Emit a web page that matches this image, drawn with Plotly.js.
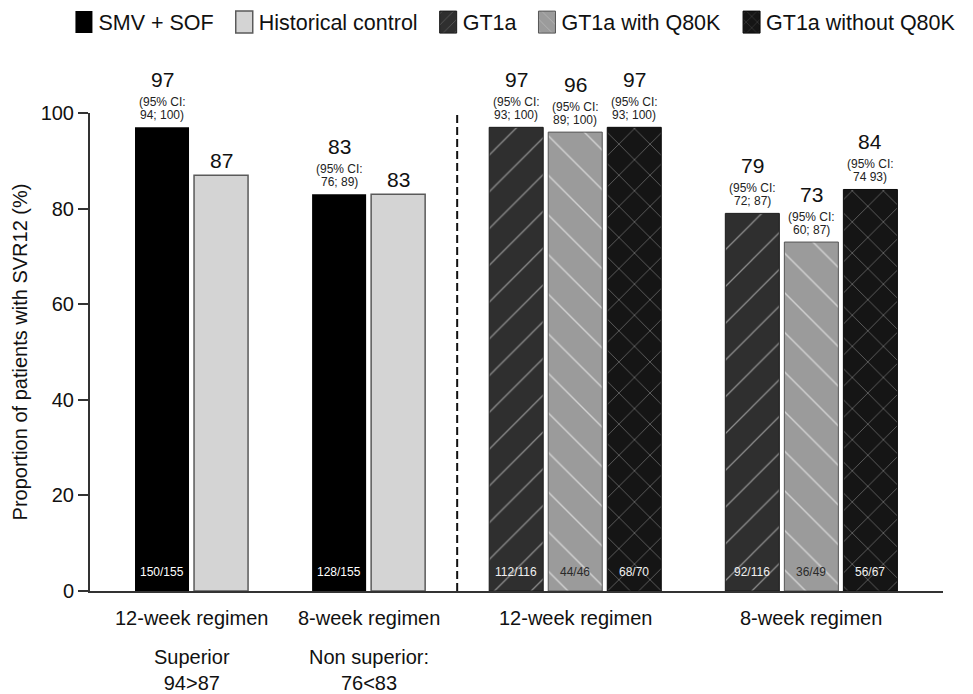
<!DOCTYPE html>
<html>
<head>
<meta charset="utf-8">
<script src="https://cdn.plot.ly/plotly-3.0.1.min.js"></script>
<style>
  html, body { margin: 0; padding: 0; background: #fff; }
  #chart { width: 973px; height: 694px; }
</style>
</head>
<body>
<div id="chart"></div>
<script>
// ---------------- data ----------------
const regimens = ['12-week regimen', '8-week regimen'];

const seriesNames = ['SMV + SOF', 'Historical control', 'GT1a', 'GT1a with Q80K', 'GT1a without Q80K'];

const smvSof      = [97, 83];
const histControl = [87, 83];
const gt1a        = [97, 79];
const gt1aQ80K    = [96, 73];
const gt1aNoQ80K  = [97, 84];

const smvSofCI      = ['94; 100', '76; 89'];
const histControlCI = [null, null];
const gt1aCI        = ['93; 100', '72; 87'];
const gt1aQ80KCI    = ['89; 100', '60; 87'];
const gt1aNoQ80KCI  = ['93; 100', '74 93'];

const smvSofN      = ['150/155', '128/155'];
const histControlN = [null, null];
const gt1aN        = ['112/116', '92/116'];
const gt1aQ80KN    = ['44/46', '36/49'];
const gt1aNoQ80KN  = ['68/70', '56/67'];

const comparisonNotes = ['Superior<br>94&gt;87', 'Non superior:<br>76&lt;83'];

const yTicks = [0, 20, 40, 60, 80, 100];
const yTitle = 'Proportion of patients with SVR12 (%)';

// -------------- structure --------------
const panels = [
  { series: [0, 1], notes: comparisonNotes },
  { series: [2, 3, 4], notes: null }
];
const values = [smvSof, histControl, gt1a, gt1aQ80K, gt1aNoQ80K];
const cis    = [smvSofCI, histControlCI, gt1aCI, gt1aQ80KCI, gt1aNoQ80KCI];
const counts = [smvSofN, histControlN, gt1aN, gt1aQ80KN, gt1aNoQ80KN];

const catName = (r, s) => regimens[r] + ' | ' + seriesNames[s];

// category order, with empty spacer slots between groups
const categoryOrder = [];
const groupInfo = [];
let gapCount = 0;
let dividerCat = null;
panels.forEach((p, pi) => {
  regimens.forEach((reg, ri) => {
    const members = p.series.map(s => catName(ri, s));
    members.forEach(c => categoryOrder.push(c));
    groupInfo.push({ label: reg, members: members, note: p.notes ? p.notes[ri] : null });
    const last = (pi === panels.length - 1 && ri === regimens.length - 1);
    if (!last) {
      gapCount += 1;
      const g = 'gap-' + gapCount;
      categoryOrder.push(g);
      if (ri === regimens.length - 1) dividerCat = g;
    }
  });
});
const idx = c => categoryOrder.indexOf(c);

// -------------- styles --------------
const FONT = 'Liberation Sans, Arial, Helvetica, sans-serif';
const styles = [
  { color: '#000000', line: { color: '#000000', width: 0 }, pattern: null, nColor: '#ffffff' },
  { color: '#d4d4d4', line: { color: '#5a5a5a', width: 1.5 }, pattern: null, nColor: '#333333' },
  { color: '#2f2f2f', line: { color: '#1a1a1a', width: 1 },
    pattern: { shape: '/', bgcolor: '#2f2f2f', fgcolor: '#8c8c8c', size: 26, solidity: 0.05 }, nColor: '#f0f0f0' },
  { color: '#9b9b9b', line: { color: '#555555', width: 1 },
    pattern: { shape: '\\', bgcolor: '#9b9b9b', fgcolor: '#d2d2d2', size: 28, solidity: 0.05 }, nColor: '#2a2a2a' },
  { color: '#151515', line: { color: '#0a0a0a', width: 1 },
    pattern: { shape: 'x', bgcolor: '#151515', fgcolor: '#7a7a7a', size: 22, solidity: 0.06 }, nColor: '#f0f0f0' }
];

// -------------- traces --------------
const traces = seriesNames.map((name, s) => {
  const marker = { color: styles[s].color, line: styles[s].line };
  if (styles[s].pattern) marker.pattern = Object.assign({ fillmode: 'replace' }, styles[s].pattern);
  return {
    type: 'bar',
    name: name,
    x: regimens.map((r, ri) => catName(ri, s)),
    y: values[s],
    width: 0.915,
    marker: marker,
    hoverinfo: 'x+y'
  };
});

// -------------- annotations --------------
const annotations = [];
seriesNames.forEach((name, s) => {
  regimens.forEach((r, ri) => {
    const c = catName(ri, s);
    const v = values[s][ri];
    const ci = cis[s][ri];
    annotations.push({
      x: c, y: v, xref: 'x', yref: 'y', text: String(v), showarrow: false,
      yanchor: 'middle', yshift: ci ? 48 : 15,
      font: { family: FONT, size: 21, color: '#111' }
    });
    if (ci) {
      annotations.push({
        x: c, y: v, xref: 'x', yref: 'y', text: '(95% CI:', showarrow: false,
        yanchor: 'middle', yshift: 25, font: { family: FONT, size: 12, color: '#222' }
      });
      annotations.push({
        x: c, y: v, xref: 'x', yref: 'y', text: ci + ')', showarrow: false,
        yanchor: 'middle', yshift: 12, font: { family: FONT, size: 12, color: '#222' }
      });
    }
    const n = counts[s][ri];
    if (n) {
      annotations.push({
        x: c, y: 0, xref: 'x', yref: 'y', text: n, showarrow: false,
        yanchor: 'middle', yshift: 19, font: { family: FONT, size: 12, color: styles[s].nColor }
      });
    }
  });
});

const shapes = [];
groupInfo.forEach(g => {
  const center = g.members.reduce((a, c) => a + idx(c), 0) / g.members.length;
  annotations.push({
    x: center, y: 0, xref: 'x', yref: 'y', text: g.label, showarrow: false,
    yanchor: 'middle', yshift: -27, font: { family: FONT, size: 20, color: '#111' }
  });
  shapes.push({
    type: 'line', xref: 'x', yref: 'y', xsizemode: 'pixel', ysizemode: 'pixel',
    xanchor: center, yanchor: 0, x0: -83, x1: 83, y0: -45, y1: -45,
    line: { color: '#444', width: 1.5 }
  });
  if (g.note) {
    annotations.push({
      x: center, y: 0, xref: 'x', yref: 'y', text: g.note, showarrow: false,
      yanchor: 'middle', yshift: -79, font: { family: FONT, size: 20, color: '#111' }
    });
  }
});

// dashed divider between the two studies
shapes.push({
  type: 'line', xref: 'x', yref: 'paper', x0: idx(dividerCat), x1: idx(dividerCat), y0: 0, y1: 1,
  line: { color: '#111', width: 2, dash: '8px,4px' }
});

// -------------- layout --------------
const layout = {
  width: 973, height: 694,
  margin: { l: 90, r: 30, t: 113, b: 103, autoexpand: false },
  paper_bgcolor: '#fff', plot_bgcolor: '#fff',
  font: { family: FONT, color: '#111' },
  barmode: 'overlay',
  showlegend: true,
  legend: {
    orientation: 'h',
    x: -0.037, y: 1.233, xanchor: 'left', yanchor: 'top',
    font: { family: FONT, size: 21.5, color: '#111' },
    traceorder: 'normal', bgcolor: 'rgba(0,0,0,0)'
  },
  xaxis: {
    type: 'category', categoryorder: 'array', categoryarray: categoryOrder,
    range: [-1.22, 13.23], showticklabels: false, ticks: '', showgrid: false, zeroline: false,
    showline: true, linecolor: '#333', linewidth: 2, fixedrange: true
  },
  yaxis: {
    range: [0, 100], tickvals: yTicks, ticktext: yTicks.map(String),
    ticks: 'outside', ticklen: 10, tickwidth: 1.5, tickcolor: '#333',
    showline: true, linecolor: '#333', linewidth: 2, showgrid: false, zeroline: false,
    tickfont: { family: FONT, size: 20, color: '#111' },
    title: { text: yTitle, font: { family: FONT, size: 20, color: '#111' }, standoff: 8 },
    fixedrange: true
  },
  annotations: annotations,
  shapes: shapes
};

const gdEl = document.getElementById('chart');
function bigSwatches() {
  gdEl.querySelectorAll('.legendpoints path').forEach(p => {
    p.setAttribute('d', 'M14,11H-3V-11H14Z');
  });
}
Plotly.newPlot(gdEl, traces, layout, { displayModeBar: false, responsive: false }).then(gd => {
  bigSwatches();
  gd.on('plotly_afterplot', bigSwatches);
  setTimeout(bigSwatches, 50);
  setTimeout(bigSwatches, 300);
});
</script>
</body>
</html>
